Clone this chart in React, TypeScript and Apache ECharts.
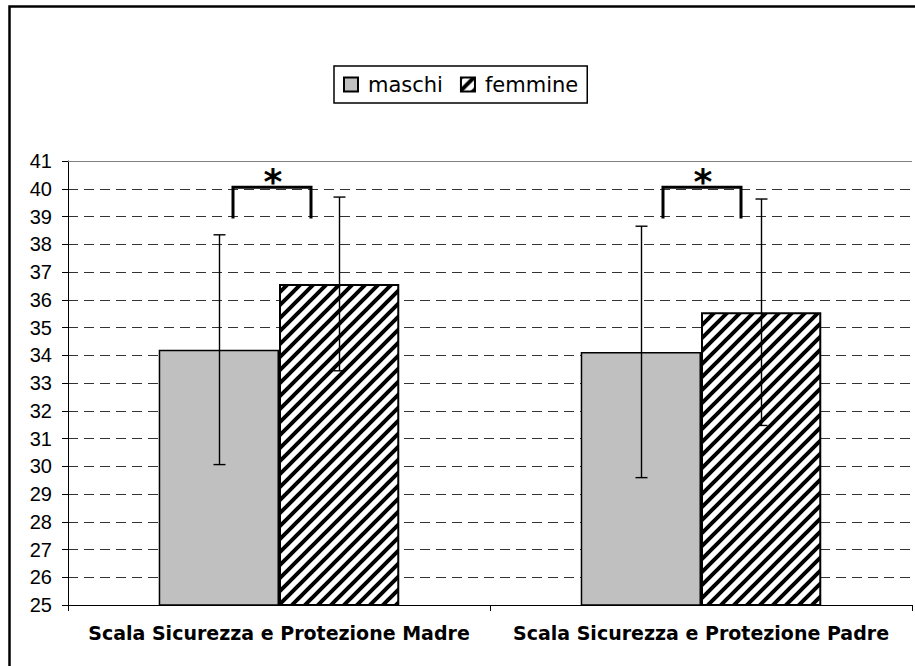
import React, { useEffect, useRef } from "react";
import * as echarts from "echarts";

// Category labels and series
const categories = [
  "Scala Sicurezza e Protezione Madre",
  "Scala Sicurezza e Protezione Padre",
];
const seriesNames = ["maschi", "femmine"];

// Means and standard deviations per group
const maschiMeans = [34.2, 34.12];
const femmineMeans = [36.57, 35.55];
const maschiSD = [4.14, 4.53];
const femmineSD = [3.13, 4.08];

// Significance brackets (value of the legs' foot and of the bar)
const bracketBase = [38.93, 38.93];
const bracketTop = [40.05, 40.05];
const bracketMark = ["*", "*"];

// Value axis range
const yMin = 25;
const yMax = 41;
const yStep = 1;

// Layout constants
const CATEGORY_GAP = 0.43;
const BRACKET_SPAN_PX = [
  [-46, 32],
  [-38, 40],
];

function makeHatch(size: number, lw: number): HTMLCanvasElement {
  const c = document.createElement("canvas");
  c.width = size;
  c.height = size;
  const ctx = c.getContext("2d")!;
  ctx.fillStyle = "#ffffff";
  ctx.fillRect(0, 0, size, size);
  ctx.strokeStyle = "#000000";
  ctx.lineWidth = lw;
  ctx.beginPath();
  for (const k of [0, size, 2 * size]) {
    ctx.moveTo(-3, k + 3);
    ctx.lineTo(k + 3, -3);
  }
  ctx.stroke();
  return c;
}

function errorSeries(name: string, means: number[], sds: number[], side: number) {
  return {
    type: "custom",
    name,
    z: 5,
    silent: true,
    encode: { x: 0, y: [1, 2] },
    data: means.map((m, i) => [i, m - sds[i], m + sds[i]]),
    renderItem: (_params: any, api: any) => {
      const cat = api.value(0);
      const band = api.size([1, 0])[0];
      const dx = (side * band * (1 - CATEGORY_GAP)) / 4;
      const hi = api.coord([cat, api.value(2)]);
      const lo = api.coord([cat, api.value(1)]);
      const x = Math.round(hi[0] + dx) + 0.5;
      const st = { stroke: "#000", lineWidth: 1.4 };
      return {
        type: "group",
        children: [
          { type: "line", shape: { x1: x, y1: hi[1], x2: x, y2: lo[1] }, style: st },
          { type: "line", shape: { x1: x - 6, y1: hi[1], x2: x + 6, y2: hi[1] }, style: st },
          { type: "line", shape: { x1: x - 6, y1: lo[1], x2: x + 6, y2: lo[1] }, style: st },
        ],
      };
    },
  };
}

export default function App() {
  const ref = useRef<HTMLDivElement>(null);

  useEffect(() => {
    const el = ref.current!;
    const chart = echarts.init(el, null, { renderer: "svg" });
    const hatchFill = { image: makeHatch(13, 4), repeat: "repeat" };

    const option: any = {
      animation: false,
      backgroundColor: "#ffffff",
      grid: { left: 68, right: 3, top: 161, bottom: 61, containLabel: false },
      legend: {
        data: seriesNames.map((n) => ({ name: n, icon: "rect" })),
        left: 334,
        top: 66,
        padding: [8, 9, 8, 9],
        itemWidth: 14,
        itemHeight: 14,
        itemGap: 17,
        borderColor: "#000",
        borderWidth: 1.5,
        selectedMode: false,
        textStyle: {
          fontFamily: "DejaVu Sans",
          fontSize: 21,
          color: "#000",
          padding: [0, 0, 0, 5],
        },
      },
      xAxis: {
        type: "category",
        data: categories,
        boundaryGap: true,
        axisLine: { lineStyle: { color: "#000", width: 1 } },
        axisTick: { show: true, alignWithLabel: false, length: 6, lineStyle: { color: "#000" } },
        axisLabel: {
          interval: 0,
          hideOverlap: false,
          margin: 18,
          fontFamily: "DejaVu Sans",
          fontWeight: "bold",
          fontSize: 19,
          color: "#000",
        },
        splitLine: { show: false },
      },
      yAxis: {
        type: "value",
        min: yMin,
        max: yMax,
        interval: yStep,
        axisLine: { show: true, lineStyle: { color: "#000", width: 1 } },
        axisTick: { show: true, length: 6, lineStyle: { color: "#000" } },
        axisLabel: {
          margin: 16,
          fontFamily: "Liberation Sans",
          fontSize: 20,
          color: "#000",
        },
        splitLine: {
          show: true,
          lineStyle: { color: "#333", width: 1, type: [10, 6] },
        },
      },
      series: [
        {
          type: "bar",
          name: seriesNames[0],
          data: maschiMeans,
          barGap: "0%",
          barCategoryGap: `${CATEGORY_GAP * 100}%`,
          itemStyle: { color: "#c0c0c0", borderColor: "#000", borderWidth: 1.5 },
          markLine: {
            silent: true,
            symbol: "none",
            label: { show: false },
            lineStyle: { color: "#808080", width: 1, type: "solid" },
            data: [{ yAxis: yMax }],
          },
        },
        {
          type: "bar",
          name: seriesNames[1],
          data: femmineMeans,
          barGap: "0%",
          barCategoryGap: `${CATEGORY_GAP * 100}%`,
          itemStyle: { color: hatchFill, borderColor: "#000", borderWidth: 2 },
        },
        errorSeries("ds maschi", maschiMeans, maschiSD, -1),
        errorSeries("ds femmine", femmineMeans, femmineSD, 1),
        {
          type: "custom",
          name: "significativita",
          z: 6,
          silent: true,
          encode: { x: 0, y: [1, 2] },
          data: bracketBase.map((b, i) => [i, b, bracketTop[i]]),
          renderItem: (params: any, api: any) => {
            const cat = api.value(0);
            const base = api.coord([cat, api.value(1)]);
            const top = api.coord([cat, api.value(2)]);
            const span = BRACKET_SPAN_PX[params.dataIndex];
            const xl = base[0] + span[0];
            const xr = base[0] + span[1];
            return {
              type: "group",
              children: [
                {
                  type: "polyline",
                  shape: {
                    points: [
                      [xl, base[1]],
                      [xl, top[1]],
                      [xr, top[1]],
                      [xr, base[1]],
                    ],
                  },
                  style: { stroke: "#000", lineWidth: 3, fill: "none", lineJoin: "miter" },
                },
                {
                  type: "text",
                  x: (xl + xr) / 2 + 1,
                  y: top[1] - 6,
                  style: {
                    text: bracketMark[params.dataIndex],
                    fontFamily: "DejaVu Sans",
                    fontWeight: "bold",
                    fontSize: 36,
                    fill: "#000",
                    align: "center",
                    verticalAlign: "middle",
                  },
                },
              ],
            };
          },
        },
      ],
      graphic: [
        {
          type: "rect",
          silent: true,
          z: 100,
          shape: { x: 9.5, y: 6.5, width: 1000, height: 1000 },
          style: { fill: "none", stroke: "#000", lineWidth: 2.5 },
        },
      ],
    };

    chart.setOption(option);
    return () => chart.dispose();
  }, []);

  return (
    <div
      ref={ref}
      style={{
        position: "fixed",
        left: 0,
        top: 0,
        width: 915,
        height: 666,
        background: "#fff",
      }}
    />
  );
}
